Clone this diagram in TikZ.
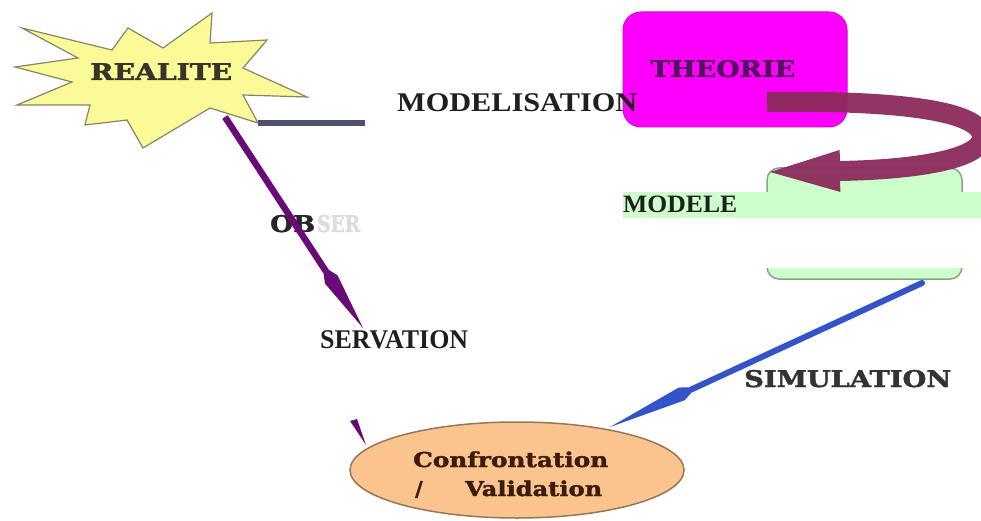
\documentclass[tikz,border=0pt]{standalone}
\usepackage{fontspec}
\setmainfont{Liberation Serif}
\newfontfamily\heavyfont{DejaVu Serif}[BoldFeatures={FakeBold=1.6}]
\usetikzlibrary{arrows.meta,shapes.geometric}

\definecolor{starfill}{HTML}{FAFA96}
\definecolor{staredge}{HTML}{85856A}
\definecolor{slateline}{HTML}{4F4F6E}
\definecolor{obspurple}{HTML}{6A0A78}
\definecolor{theofill}{HTML}{FF00FF}
\definecolor{theotext}{HTML}{52125E}
\definecolor{loopred}{HTML}{8C2B5C}
\definecolor{modfill}{HTML}{CCFFCC}
\definecolor{modedge}{HTML}{86A486}
\definecolor{simblue}{HTML}{3354C8}
\definecolor{conffill}{HTML}{FAC48E}
\definecolor{confedge}{HTML}{9A7654}
\definecolor{conftext}{HTML}{3B1C0C}
\definecolor{ghost}{HTML}{DCDCDC}

% stretch a box to a given width, keeping its height
\newcommand{\fitw}[2]{\resizebox{#1pt}{\height}{#2}}

\begin{document}
\begin{tikzpicture}[x=1pt,y=-1pt,
  lbl/.style={inner sep=0pt, anchor=base west},
  heavytext/.style={lbl, font=\heavyfont\bfseries\fontsize{23}{23}\selectfont},
  timestext/.style={lbl, text=black!88, font=\bfseries\fontsize{27}{27}\selectfont},
  theobox/.style={draw=theofill!85!black, fill=theofill, rounded corners=18pt,
    minimum width=224pt, minimum height=115pt, line width=1pt},
  modbox/.style={draw=modedge, fill=modfill, rounded corners=12pt,
    minimum width=195pt, minimum height=111pt, line width=1.5pt},
  confbox/.style={ellipse, draw=confedge, fill=conffill, line width=1.5pt,
    minimum width=334pt, minimum height=96pt, inner sep=0pt},
  loop/.style={draw=loopred, line width=20pt, opacity=0.95,
    -{Triangle[length=70pt,width=42pt,line width=0pt]}},
  obsarrow/.style={draw=obspurple, line width=6.5pt,
    -{Kite[length=74pt,width=15pt,inset=16pt,line width=0pt]}},
  simarrow/.style={draw=simblue, line width=6pt, line cap=round,
    -{Kite[length=95pt,width=14pt,inset=16pt,line width=0pt]}}
]
\useasboundingbox (0,0) rectangle (981,521);
\fill[white] (0,0) rectangle (981,521);

% ---- REALITE star ----
\draw[fill=starfill, draw=staredge, line width=1.2pt, line join=miter]
  (22,28) -- (112,50) -- (128,28) -- (163,48) -- (212,13) -- (210,43)
  -- (267,40) -- (243,68) -- (307,97) -- (243,95) -- (258,123)
  -- (210,108) -- (143,148) -- (127,120) -- (85,125) -- (90,105)
  -- (17,105) -- (72,82) -- (15,67) -- (78,58) -- cycle;
\node[heavytext, text=black!80!olive] (realite) at (90,80) {\fitw{142}{REALITE}};

\coordinate (starTip) at (258,123);
\coordinate (starIn)  at (225,117);
\coordinate (slateEnd) at (365,123);
\coordinate (obsEnd)  at (363,328);

% label under the observation arrow
\node[heavytext, text=black!85] (ob) at (270,232) {\fitw{45}{OB}};
\node[heavytext, text=ghost] (obghost) at (317,232) {\fitw{43}{SER}};

\draw[slateline, line width=6.5pt] (starTip) -- (slateEnd);
\draw[obsarrow] (starIn) -- (obsEnd);

% ---- THEORIE and MODELE ----
\node[theobox] (theorie) at (735,69.5) {};
\node[heavytext, text=theotext] (theolabel) at (650,77) {\fitw{145}{THEORIE}};

\node[modbox] (modele) at (864.5,223.5) {};

\coordinate (loopStart) at (767,102);
\coordinate (loopEnd) at (770,172);
\draw[loop] (loopStart) .. controls (905,100) and (984,112) .. (982,138)
  .. controls (980,161) and (905,170) .. (loopEnd);

% band across the model box
\fill[white] (622,218) rectangle (981,268);
\fill[modfill] (623,192) rectangle (981,218);
\node[timestext, font=\bfseries\fontsize{25}{25}\selectfont] (modlabel) at (623,212) {\fitw{114}{MODELE}};

% ---- labels ----
\node[timestext] (modelisation) at (397,112) {\fitw{240}{MODELISATION}};
\node[timestext] (servation) at (320,348) {\fitw{148}{SERVATION}};
\node[heavytext, text=black!80] (simulation) at (744,387) {\fitw{207}{SIMULATION}};

% ---- Confrontation / Validation ----
\node[confbox] (conf) at (517,470) {};
\node[heavytext, text=conftext, font=\heavyfont\bfseries\fontsize{20.5}{20.5}\selectfont]
  (conf1) at (413,467) {\fitw{195}{Confrontation}};
\node[heavytext, text=conftext, font=\heavyfont\bfseries\fontsize{20.5}{20.5}\selectfont]
  (conf2) at (415,496) {/};
\node[heavytext, text=conftext, font=\heavyfont\bfseries\fontsize{20.5}{20.5}\selectfont]
  (conf3) at (465,496) {\fitw{137}{Validation}};

% tail of an arrow entering from the left
\fill[obspurple] (350,421) -- (357,419) -- (366,445) -- cycle;

\coordinate (simStart) at (922,283);
\coordinate (simEnd) at (610,427);
\draw[simarrow] (simStart) -- (simEnd);

\end{tikzpicture}
\end{document}
